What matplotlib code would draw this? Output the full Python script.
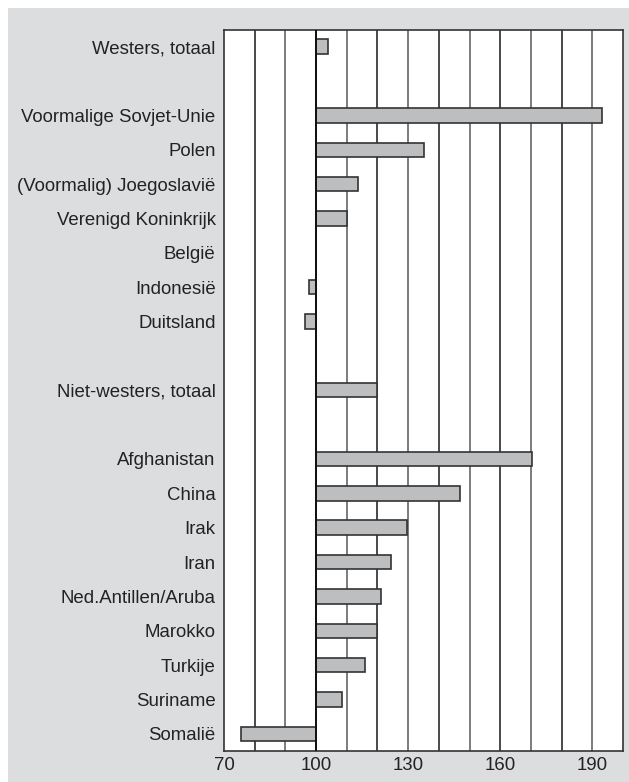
import matplotlib
matplotlib.use("Agg")
import matplotlib.pyplot as plt
from matplotlib.patches import Rectangle

categories = ["Westers, totaal", "", "Voormalige Sovjet-Unie", "Polen",
              "(Voormalig) Joegoslavië", "Verenigd Koninkrijk", "België",
              "Indonesië", "Duitsland", "", "Niet-westers, totaal", "",
              "Afghanistan", "China", "Irak", "Iran", "Ned.Antillen/Aruba",
              "Marokko", "Turkije", "Suriname", "Somalië"]
values = [104, None, 193, 135, 113.5, 110, 100, 97.6, 96.3, None, 120, None,
          170.5, 147, 129.6, 124.5, 121, 120, 116, 108.4, 75.4]
baseline = 100
xticks = [70, 100, 130, 160, 190]

plt.rcParams['font.family'] = ['Liberation Sans', 'DejaVu Sans']

fig = plt.figure(figsize=(6.29, 7.82), dpi=100)
fig.patch.set_facecolor('white')
fig.patches.append(Rectangle((8/629, 0), 1 - 8/629, 1 - 8/782, transform=fig.transFigure,
                             facecolor='#dcdddf', edgecolor='none', zorder=-10))

ax = fig.add_axes([224/629, 1 - 751/782, (623-224)/629, (751-29.5)/782])
ax.set_facecolor('white')

n = len(categories)
ys = list(range(n))
for y, v in zip(ys, values):
    if v is None:
        continue
    ax.barh(y, v - baseline, left=baseline, height=0.42, color='#bdbec0',
            edgecolor='#333333', linewidth=1.2, zorder=3)

ax.set_xlim(70, 200)
ax.set_ylim(n - 0.5, -0.5)
for gx in range(80, 200, 10):
    ax.axvline(gx, color='#2a2a2a' if gx % 20 == 0 else '#666666', linewidth=1.2, zorder=1)
ax.axvline(100, color='#111111', linewidth=1.4, zorder=4)

ax.set_yticks(ys)
ax.set_yticklabels(categories, fontsize=13.4, color='#222222')
ax.set_xticks(xticks)
ax.set_xticklabels([str(t) for t in xticks], fontsize=13.4, color='#222222')
ax.tick_params(axis='both', length=0)
ax.tick_params(axis='y', pad=6)
ax.tick_params(axis='x', pad=4)
for s in ax.spines.values():
    s.set_color('#333333')
    s.set_linewidth(1.2)

fig.savefig('out.png', dpi=100)
